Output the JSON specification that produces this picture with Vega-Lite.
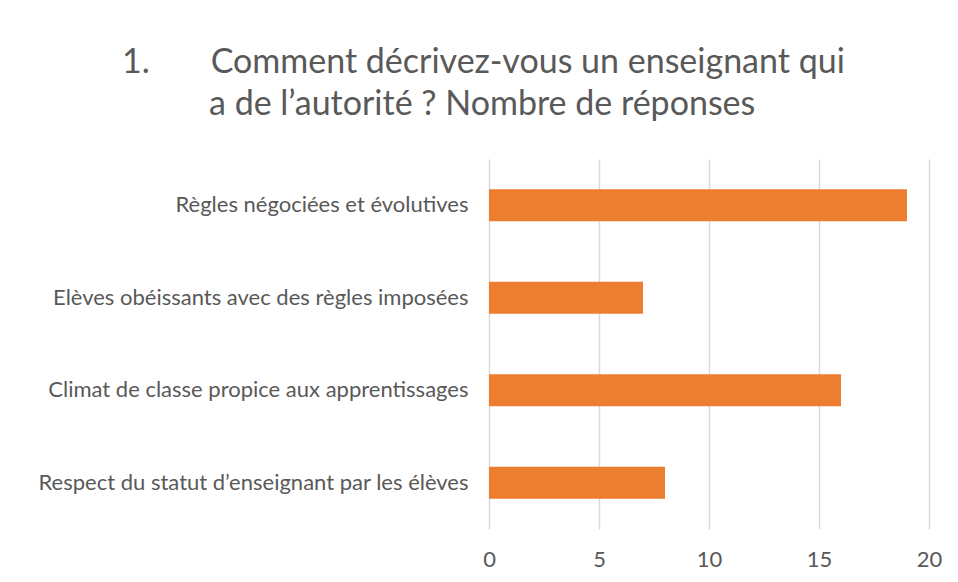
{
  "$schema": "https://vega.github.io/schema/vega-lite/v6.json",
  "autosize": {"type": "none"},
  "width": 440,
  "height": 370,
  "padding": {"left": 489, "top": 159, "right": 29, "bottom": 53},
  "background": "white",
  "title": {
    "text": ["1.\u00a0\u00a0\u00a0\u00a0\u00a0\u00a0\u00a0Comment décrivez-vous un enseignant qui", "\u200b\u00a0\u00a0\u00a0\u00a0\u00a0\u00a0\u00a0\u00a0\u00a0\u00a0a de l’autorité ? Nombre de réponses"],
    "anchor": "start",
    "frame": "group",
    "dx": -367,
    "offset": 37,
    "font": "Lato",
    "fontSize": 34,
    "fontWeight": "normal",
    "color": "#595959",
    "lineHeight": 42
  },
  "data": {
    "values": [
      {"categorie": "Règles négociées et évolutives", "reponses": 19},
      {"categorie": "Elèves obéissants avec des règles imposées", "reponses": 7},
      {"categorie": "Climat de classe propice aux apprentissages", "reponses": 16},
      {"categorie": "Respect du statut d’enseignant par les élèves", "reponses": 8}
    ]
  },
  "mark": {"type": "bar", "color": "#ED7D31"},
  "encoding": {
    "y": {
      "field": "categorie",
      "type": "nominal",
      "sort": null,
      "title": null,
      "scale": {"paddingInner": 0.654, "paddingOuter": 0.327},
      "axis": {"domain": false, "ticks": false, "labelPadding": 21, "labelFont": "Lato", "labelFontSize": 22, "labelColor": "#595959", "labelLimit": 600}
    },
    "x": {
      "field": "reponses",
      "type": "quantitative",
      "title": null,
      "scale": {"domain": [0, 20], "nice": false},
      "axis": {"values": [0, 5, 10, 15, 20], "domain": false, "ticks": false, "labelFlush": false, "labelPadding": 20, "labelFont": "Lato", "labelFontSize": 22, "labelColor": "#595959", "gridColor": "#D9D9D9", "gridWidth": 1.5}
    }
  },
  "config": {"view": {"stroke": null}}
}
